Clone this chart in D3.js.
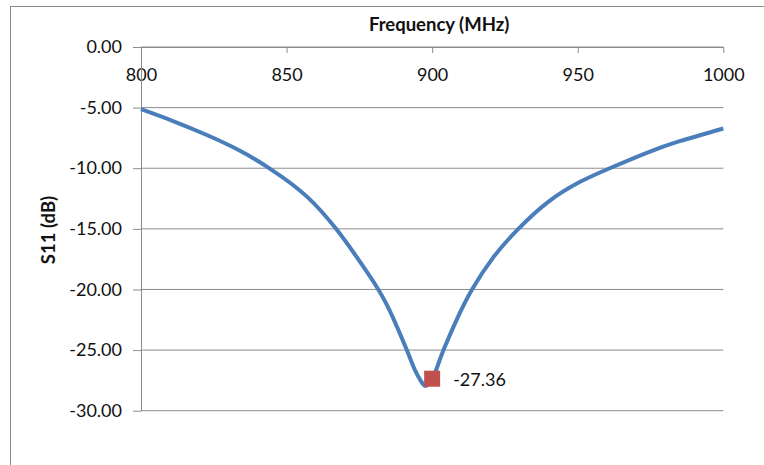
<!DOCTYPE html>
<html lang="en">
<head>
    <meta charset="UTF-8">
    <title>S11 vs Frequency</title>
    <script src="https://d3js.org/d3.v7.min.js"></script>
    <style>
        body {
            margin: 0;
            background: #ffffff;
        }

        .line {
            fill: none;
            stroke: #4a7ebb;
            stroke-width: 4px;
        }

        .grid line {
            stroke: #8c8c8c;
            stroke-width: 1px;
        }

        .axis path,
        .axis line {
            stroke: #8c8c8c;
            stroke-width: 1px;
        }

        .axis text,
        .point-label {
            font-family: Lato, "Open Sans", sans-serif;
            font-size: 18px;
            fill: #111111;
        }

        .axis-title {
            font-family: Lato, "Open Sans", sans-serif;
            font-size: 18.5px;
            font-weight: bold;
            fill: #111111;
        }

        .marker {
            fill: #c0504d;
        }
    </style>
</head>
<body>
<div id="chart"></div>

<script>
    // values
    var freqs = [800, 811, 822.6, 834, 845, 857, 867, 874, 881.5, 886.5, 891.3,
                 894, 896, 897.6, 899, 900, 901.5, 903.9, 908.8, 913.7, 921,
                 929.6, 940, 951, 961, 973.7, 985, 1000];
    var s11 = [-5.13, -6.11, -7.26, -8.56, -10.15, -12.34, -15.0, -17.3, -20.0, -22.3, -25.0,
               -26.6, -27.5, -27.95, -27.75, -27.36, -26.55, -25.0, -22.3, -20.0, -17.35,
               -15.0, -12.75, -11.1, -10.0, -8.73, -7.77, -6.72];

    var xTicks = [800, 850, 900, 950, 1000];
    var yTicks = [0, -5, -10, -15, -20, -25, -30];

    var markFreq = 900;
    var markValue = -27.36;

    function init() {
        var w = 764;
        var h = 465;

        var dataset = freqs.map(function(f, i) {
            return { freq: f, value: s11[i] };
        });

        drawChart(dataset, w, h);
    }

    // plain hyphen like the original, not d3's unicode minus
    function fmt2(d) {
        return d.toFixed(2);
    }

    function drawChart(dataset, w, h) {
        var left = 141;
        var right = 723.3;
        var top = 47;
        var bottom = 410.7;

        var xScale = d3.scaleLinear()
            .domain([800, 1000])
            .range([left, right]);

        var yScale = d3.scaleLinear()
            .domain([-30, 0])
            .range([bottom, top]);

        var svg = d3.select("#chart")
            .append("svg")
            .attr("width", w)
            .attr("height", h);

        // chart border, runs past the right and bottom edges
        svg.append("rect")
            .attr("x", 10.5)
            .attr("y", 6.5)
            .attr("width", w + 20)
            .attr("height", h + 20)
            .attr("fill", "none")
            .attr("stroke", "#8c8c8c");

        // horizontal gridlines
        svg.append("g")
            .attr("class", "grid")
            .selectAll("line")
            .data(yTicks)
            .enter()
            .append("line")
            .attr("x1", left)
            .attr("x2", right)
            .attr("y1", function(d) { return yScale(d); })
            .attr("y2", function(d) { return yScale(d); });

        // frequency axis sits at the top (0 dB line), ticks point into the plot
        var xAxis = svg.append("g")
            .attr("class", "axis")
            .attr("transform", "translate(0," + top + ")")
            .call(d3.axisTop(xScale)
                .tickValues(xTicks)
                .tickSize(-6)
                .tickSizeOuter(0)
                .tickFormat(d3.format("d")));

        xAxis.selectAll(".tick text")
            .attr("y", 34)
            .attr("dy", 0);

        var yAxis = svg.append("g")
            .attr("class", "axis")
            .attr("transform", "translate(" + left + ",0)")
            .call(d3.axisLeft(yScale)
                .tickValues(yTicks)
                .tickSize(8)
                .tickSizeOuter(0)
                .tickFormat(fmt2));

        yAxis.selectAll(".tick text")
            .attr("x", -19);

        svg.append("text")
            .attr("class", "axis-title")
            .attr("x", (left + right) / 2 + 7)
            .attr("y", 31)
            .attr("text-anchor", "middle")
            .text("Frequency (MHz)");

        svg.append("text")
            .attr("class", "axis-title")
            .attr("transform", "translate(55,230) rotate(-90)")
            .attr("text-anchor", "middle")
            .text("S11 (dB)");

        var line = d3.line()
            .curve(d3.curveNatural)
            .x(function(d) { return xScale(d.freq); })
            .y(function(d) { return yScale(d.value); });

        svg.append("path")
            .datum(dataset)
            .attr("class", "line")
            .attr("d", line);

        var size = 16;
        svg.append("rect")
            .attr("class", "marker")
            .attr("x", xScale(markFreq) - size / 2)
            .attr("y", yScale(markValue) - size / 2)
            .attr("width", size)
            .attr("height", size);

        svg.append("text")
            .attr("class", "point-label")
            .attr("x", xScale(markFreq) + 21)
            .attr("y", yScale(markValue) + 7)
            .text(fmt2(markValue));
    }

    init();
</script>
</body>
</html>
